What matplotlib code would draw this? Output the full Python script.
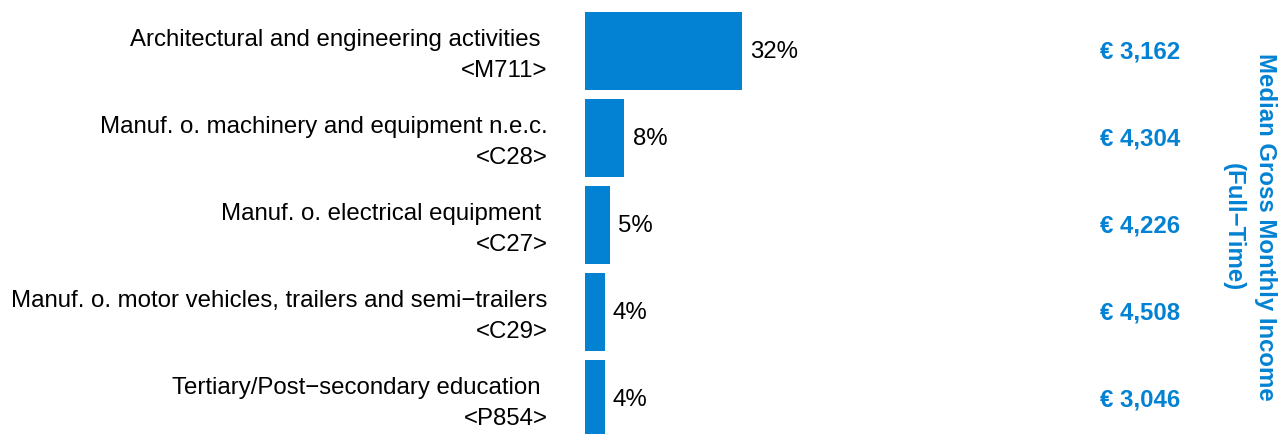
import numpy as np
import matplotlib
matplotlib.use("Agg")
import matplotlib.pyplot as plt
from matplotlib.transforms import blended_transform_factory

plt.rcParams['font.family'] = ['Liberation Sans', 'DejaVu Sans']

# industries, NACE codes, share of graduates and median income
industries = [
    "Architectural and engineering activities ",
    "Manuf. o. machinery and equipment n.e.c.",
    "Manuf. o. electrical equipment ",
    "Manuf. o. motor vehicles, trailers and semi\u2212trailers",
    "Tertiary/Post\u2212secondary education ",
]
codes = ["<M711>", "<C28>", "<C27>", "<C29>", "<P854>"]
shares = [32, 8, 5, 4, 4]
incomes = [3162, 4304, 4226, 4508, 3046]

blue = "#0382D3"
W, H = 1284, 435
fs = 17.3

fig = plt.figure(figsize=(W / 100, H / 100), dpi=100)
# axis starts at x=585px, 4.9px per percent
x0 = 585
ax = fig.add_axes([x0 / W, 0, 1 - x0 / W, 1])
ax.set_xlim(0, (W - x0) / 4.9)
ax.set_ylim((H - 52) / 87, -52 / 87)
ax.axis("off")

y = np.arange(len(shares))
ax.barh(y, shares, height=0.897, color=blue)

for i in range(len(shares)):
    ax.annotate(f"{shares[i]}%", (shares[i], y[i]), xytext=(6, 0),
                textcoords="offset points", ha="left", va="center",
                fontsize=fs, color="black")
    ax.annotate(industries[i] + "\n" + codes[i], (0, y[i]), xytext=(-27, -2.5),
                textcoords="offset points", ha="right", va="center",
                multialignment="right", fontsize=fs, linespacing=1.55,
                annotation_clip=False)

trans = blended_transform_factory(fig.transFigure, ax.transData)
for i in range(len(incomes)):
    ax.text(1100 / W, y[i], f"\u20ac {incomes[i]:,}", transform=trans,
            ha="left", va="center", fontsize=fs, fontweight="bold",
            color=blue, clip_on=False)

fig.text(1249 / W, 1 - 227 / H, "Median Gross Monthly Income\n(Full\u2212Time)",
         rotation=-90, ha="center", va="center", multialignment="center",
         fontsize=fs, fontweight="bold", color=blue, linespacing=1.5)

fig.savefig("out.png", dpi=100)
